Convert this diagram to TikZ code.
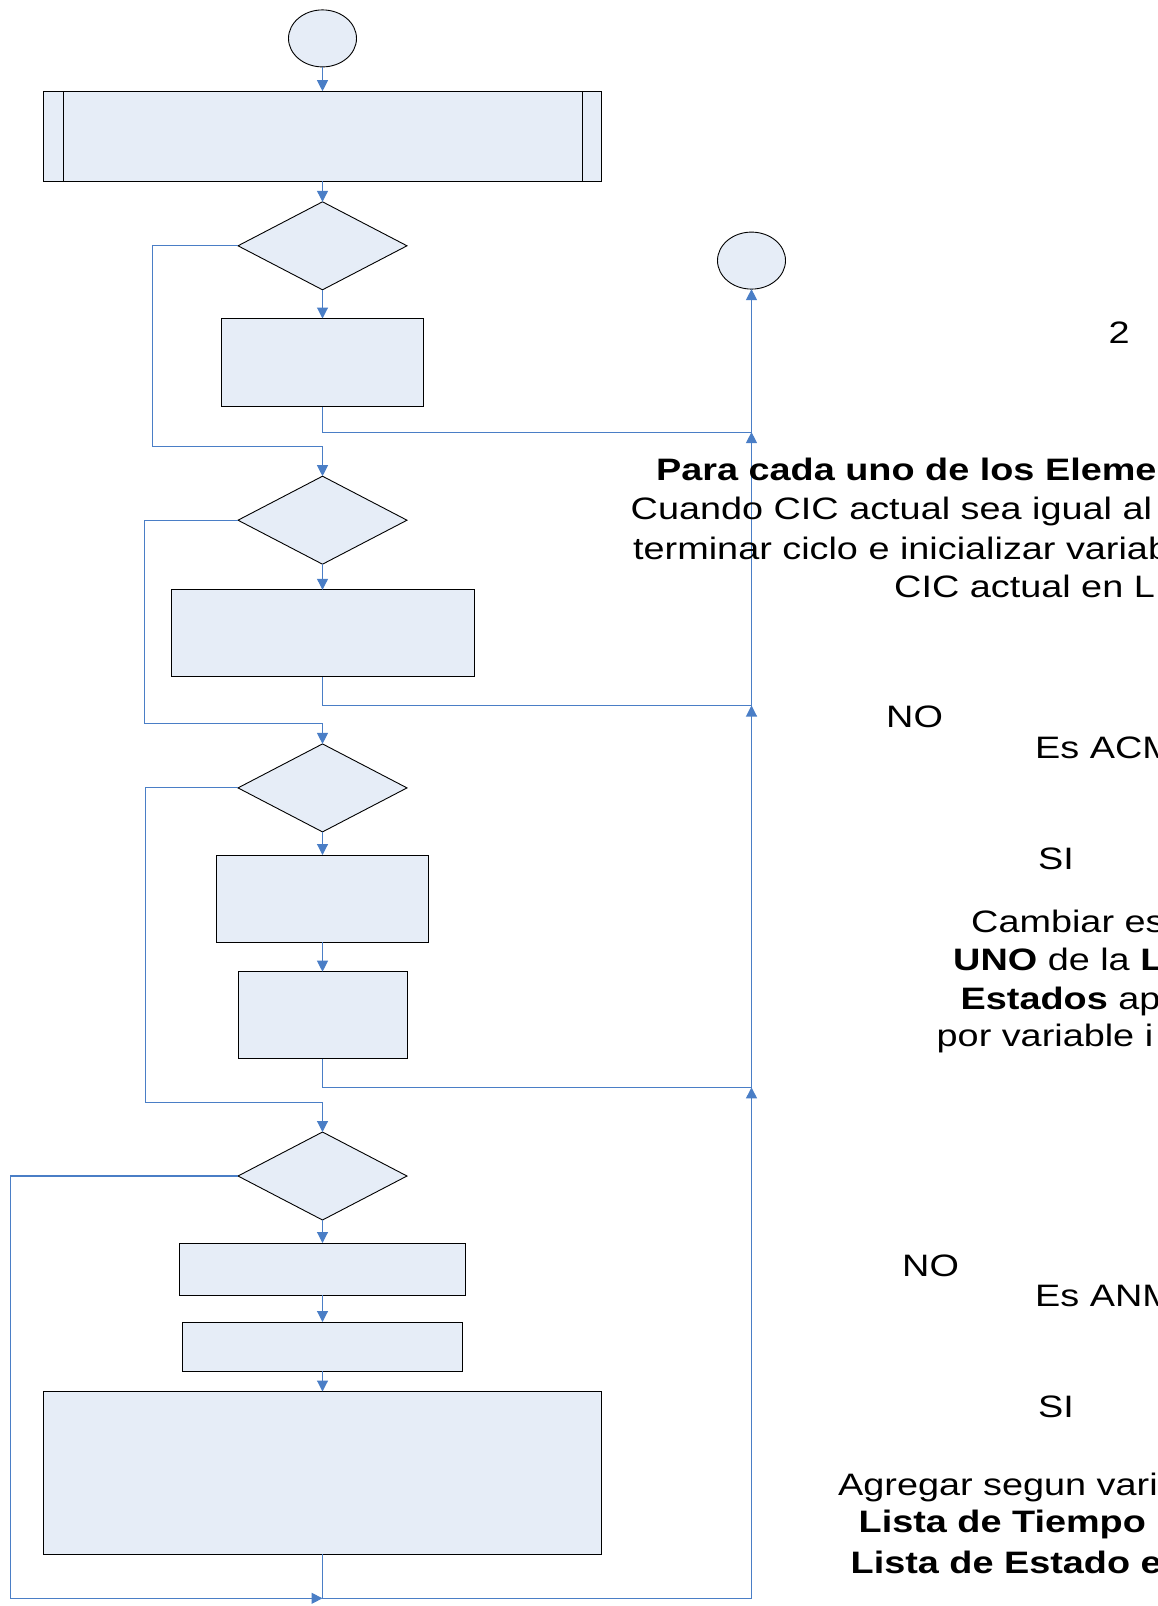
\documentclass[tikz,border=0pt]{standalone}
\usepackage{fontspec}
\setmainfont{Liberation Sans}[FakeStretch=1.22]
\usetikzlibrary{shapes.geometric,arrows.meta}
\definecolor{shapefill}{HTML}{E6EDF7}
\definecolor{flowblue}{HTML}{4A7EC6}
\tikzset{
  shapebase/.style={draw=black, line width=0.9pt, fill=shapefill, inner sep=0pt, outer sep=0pt},
  procbox/.style={shapebase, rectangle},
  decision/.style={shapebase, diamond, minimum width=169pt, minimum height=88pt},
  terminal/.style={shapebase, ellipse, minimum width=68pt, minimum height=57pt},
  flow/.style={draw=flowblue, line width=1.1pt},
  flowarrow/.style={flow, -{Triangle[length=11pt,width=11pt]}},
  lbl/.style={anchor=base west, inner sep=0pt, font=\fontsize{31}{39}\selectfont}
}
\begin{document}
\begin{tikzpicture}[x=1pt,y=-1pt]
\useasboundingbox (0,0) rectangle (1158,1606);
\clip (0,0) rectangle (1158,1606);

% flowchart shapes
\node[terminal] (start) at (322.5,38.4) {};
\node[procbox, minimum width=558pt, minimum height=90pt] (init) at (322.5,136.2) {};
\draw[line width=0.9pt] ([xshift=19.5pt]init.north west) -- ([xshift=19.5pt]init.south west);
\draw[line width=0.9pt] ([xshift=-19.5pt]init.north east) -- ([xshift=-19.5pt]init.south east);
\node[decision] (d1) at (322.5,245.8) {};
\node[procbox, minimum width=201.7pt, minimum height=88pt] (b1) at (322.5,362.5) {};
\node[terminal] (fin) at (751.5,260.6) {};
\node[decision] (d2) at (322.5,520.2) {};
\node[procbox, minimum width=303pt, minimum height=87pt] (b2) at (322.5,633.3) {};
\node[decision] (d3) at (322.5,787.9) {};
\node[procbox, minimum width=212pt, minimum height=87pt] (b3) at (322.5,898.5) {};
\node[procbox, minimum width=169pt, minimum height=87pt] (b4) at (322.5,1015.2) {};
\node[decision] (d4) at (322.5,1176) {};
\node[procbox, minimum width=286.7pt, minimum height=52.2pt] (b5) at (322.5,1269.1) {};
\node[procbox, minimum width=280.5pt, minimum height=49pt] (b6) at (322.5,1346.5) {};
\node[procbox, minimum width=558pt, minimum height=162.8pt] (b7) at (322.5,1472.9) {};

% junctions on the return line
\coordinate (j1) at (751.5,432.1);
\coordinate (j2) at (751.5,705.5);
\coordinate (j3) at (751.5,1087.4);
\coordinate (j4) at (751.5,1598.3);
\coordinate (m4) at (322.5,1598.3);

% main flow
\draw[flowarrow] (start) -- (init);
\draw[flowarrow] (init) -- (d1);
\draw[flowarrow] (d1) -- (b1);
\draw[flowarrow] (d2) -- (b2);
\draw[flowarrow] (d3) -- (b3);
\draw[flowarrow] (b3) -- (b4);
\draw[flowarrow] (d4) -- (b5);
\draw[flowarrow] (b5) -- (b6);
\draw[flowarrow] (b6) -- (b7);

% "no" branches
\draw[flowarrow] (d1.west) -| (152.6,446.4) -- (322.5,446.4) -- (d2.north);
\draw[flowarrow] (d2.west) -| (144.4,723.9) -- (322.5,723.9) -- (d3.north);
\draw[flowarrow] (d3.west) -| (145.4,1102.7) -- (322.5,1102.7) -- (d4.north);
\draw[flowarrow] (d4.west) -| (10.2,1598.3) -- (m4);

% return line to the end terminal
\draw[flow] (b1.south) |- (j1);
\draw[flow] (b2.south) |- (j2);
\draw[flow] (b4.south) |- (j3);
\draw[flow] (b7.south) -- (m4) -- (j4);
\draw[flowarrow] (j4) -- (j3);
\draw[flowarrow] (j3) -- (j2);
\draw[flowarrow] (j2) -- (j1);
\draw[flowarrow] (j1) -- (fin);

% annotations
\node[lbl] (two) at (1108.5,343.3) {2};
\node[lbl] (t1) at (656,480) {\textbf{Para cada uno de los Eleme}};
\node[lbl] (t2) at (630.5,519) {Cuando CIC actual sea igual al};
\node[lbl] (t3) at (633,559) {terminar ciclo e inicializar variab};
\node[lbl] (t4) at (894,597.3) {CIC actual en L};
\node[lbl] (no1) at (886,727.7) {NO};
\node[lbl] (q1) at (1035,758.3) {Es ACM};
\node[lbl] (si1) at (1038,869.3) {SI};
\node[lbl] (c1) at (971,932.7) {Cambiar es};
\node[lbl] (c2) at (953,970.7) {\textbf{UNO} de la \textbf{L}};
\node[lbl] (c3) at (960.5,1009.3) {\textbf{Estados} ap};
\node[lbl] (c4) at (936.5,1046.7) {por variable i};
\node[lbl] (no2) at (902,1276) {NO};
\node[lbl] (q2) at (1035,1306.7) {Es ANM};
\node[lbl] (si2) at (1038,1417) {SI};
\node[lbl] (a1) at (838,1495) {Agregar segun vari};
\node[lbl] (a2) at (858.5,1532.7) {\textbf{Lista de Tiempo}};
\node[lbl] (a3) at (850.5,1573.3) {\textbf{Lista de Estado e}};
\end{tikzpicture}
\end{document}
